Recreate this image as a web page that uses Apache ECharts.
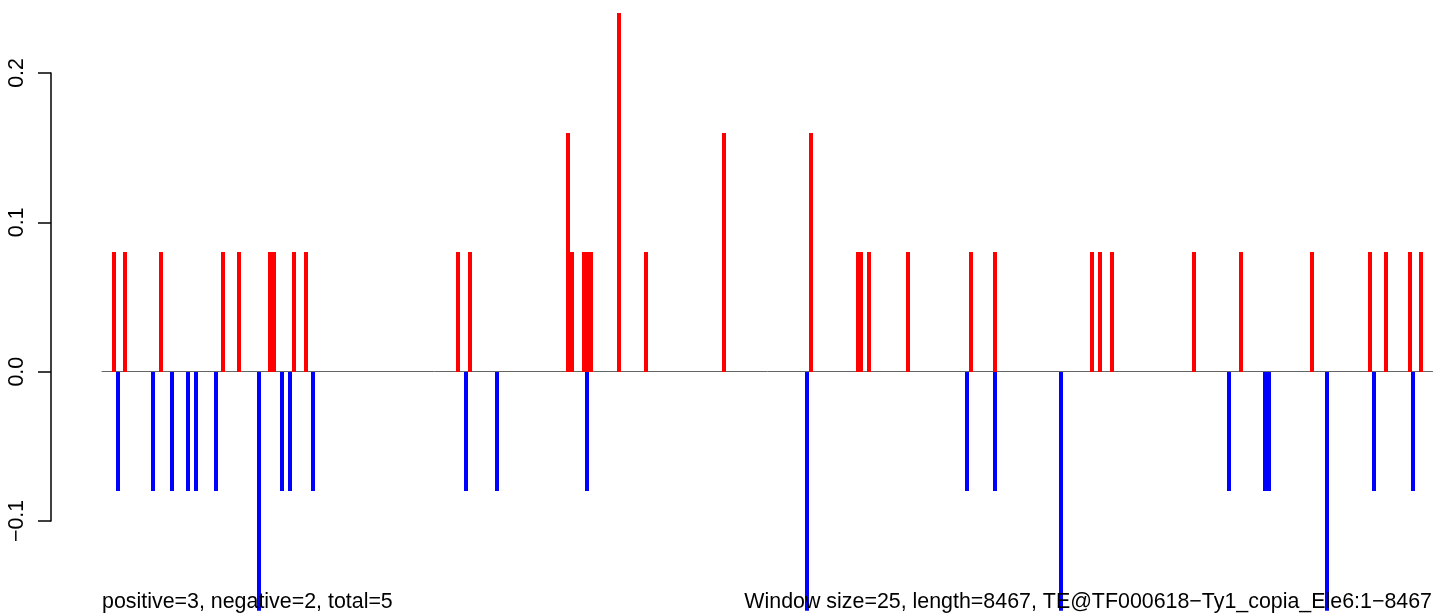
<!DOCTYPE html>
<html>
<head>
<meta charset="utf-8">
<script src="https://cdn.jsdelivr.net/npm/echarts@6.0.0/dist/echarts.min.js"></script>
<style>
  html, body { margin: 0; padding: 0; background: #ffffff; }
  #chart { width: 1433px; height: 615px; }
</style>
</head>
<body>
<div id="chart"></div>
<script>
// Window indices (window size = 25 bp) and values
var posWindows = [3, 6, 15, 31, 35, 43, 44, 49, 52, 91, 94, 119, 120, 123, 124, 125, 132, 139, 159, 181,
                  193, 194, 196, 206, 222, 228, 253, 255, 258, 279, 291, 309, 324, 328, 334, 337];
var posValues  = [0.08, 0.08, 0.08, 0.08, 0.08, 0.08, 0.08, 0.08, 0.08, 0.08, 0.08, 0.16, 0.08, 0.08, 0.08, 0.08, 0.24, 0.08, 0.16, 0.16,
                  0.08, 0.08, 0.08, 0.08, 0.08, 0.08, 0.08, 0.08, 0.08, 0.08, 0.08, 0.08, 0.08, 0.08, 0.08, 0.08];
var negWindows = [4, 13, 18, 22, 24, 29, 40, 46, 48, 54, 93, 101, 124, 180, 221, 228, 245, 288, 297, 298, 313, 325, 335];
var negValues  = [-0.08, -0.08, -0.08, -0.08, -0.08, -0.08, -0.16, -0.08, -0.08, -0.08, -0.08, -0.08, -0.08, -0.16,
                  -0.08, -0.08, -0.16, -0.08, -0.08, -0.08, -0.16, -0.08, -0.08];
var yTicks = [-0.1, 0.0, 0.1, 0.2];
var leftNote = 'positive=3, negative=2, total=5';
var rightNote = 'Window size=25, length=8467, TE@TF000618\u2212Ty1_copia_Ele6:1\u22128467';

var FONT = '"Liberation Sans", Arial, Helvetica, sans-serif';
var BAR_W = 4;

function pairs(xs, ys) {
  return xs.map(function (x, i) { return [x, ys[i]]; });
}
function fmt(v) {
  var s = Math.abs(v).toFixed(1);
  return (v < -1e-9 ? '\u2212' : '') + s;
}
function makeRender(color) {
  return function (params, api) {
    var x = api.value(0), y = api.value(1);
    var p0 = api.coord([x, 0]);
    var p1 = api.coord([x, y]);
    var left = Math.round(p0[0] - BAR_W / 2);
    var top = Math.round(Math.min(p0[1], p1[1]));
    var bottom = Math.round(Math.max(p0[1], p1[1]));
    return {
      type: 'rect',
      shape: { x: left, y: top, width: BAR_W, height: bottom - top },
      style: { fill: color }
    };
  };
}

var chart = echarts.init(document.getElementById('chart'), null, { renderer: 'canvas' });
chart.setOption({
  animation: false,
  backgroundColor: '#ffffff',
  grid: [
    { left: 102, right: 0, top: 13.1, bottom: 4.3, containLabel: false },
    { left: 51, width: 20, top: 73, bottom: 94, containLabel: false }
  ],
  xAxis: [
    {
      type: 'value', gridIndex: 0, min: 0, max: 340,
      axisLine: { show: true, onZero: true, lineStyle: { color: '#666666', width: 1 } },
      axisTick: { show: false }, axisLabel: { show: false }, splitLine: { show: false }
    },
    {
      type: 'value', gridIndex: 1, min: 0, max: 1, show: false
    }
  ],
  yAxis: [
    {
      type: 'value', gridIndex: 0, min: -0.16, max: 0.24, show: false,
      splitLine: { show: false }
    },
    {
      type: 'value', gridIndex: 1, min: yTicks[0], max: yTicks[yTicks.length - 1], interval: 0.1,
      position: 'left',
      axisLine: { show: true, lineStyle: { color: '#000000', width: 1.5 } },
      axisTick: { show: true, length: 13, inside: false, lineStyle: { color: '#000000', width: 1.5 } },
      axisLabel: {
        show: true, rotate: 90, margin: 23, color: '#000000',
        fontSize: 21.4, fontFamily: FONT, formatter: fmt
      },
      splitLine: { show: false }
    }
  ],
  series: [
    {
      type: 'custom', name: 'positive', xAxisIndex: 0, yAxisIndex: 0,
      data: pairs(posWindows, posValues),
      renderItem: makeRender('#ff0000'),
      encode: { x: 0, y: 1 },
      clip: true, z: 2
    },
    {
      type: 'custom', name: 'negative', xAxisIndex: 0, yAxisIndex: 0,
      data: pairs(negWindows, negValues),
      renderItem: makeRender('#0000ff'),
      encode: { x: 0, y: 1 },
      clip: true, z: 2
    }
  ],
  graphic: [
    {
      type: 'text', x: 102, y: 602.5, z: 100,
      style: {
        text: leftNote, font: '21.4px ' + FONT, fill: '#000000',
        textAlign: 'left', textVerticalAlign: 'middle', verticalAlign: 'middle'
      }
    },
    {
      type: 'text', x: 1432, y: 602.5, z: 100,
      style: {
        text: rightNote, font: '21.4px ' + FONT, fill: '#000000',
        textAlign: 'right', textVerticalAlign: 'middle', verticalAlign: 'middle'
      }
    }
  ]
});
</script>
</body>
</html>
